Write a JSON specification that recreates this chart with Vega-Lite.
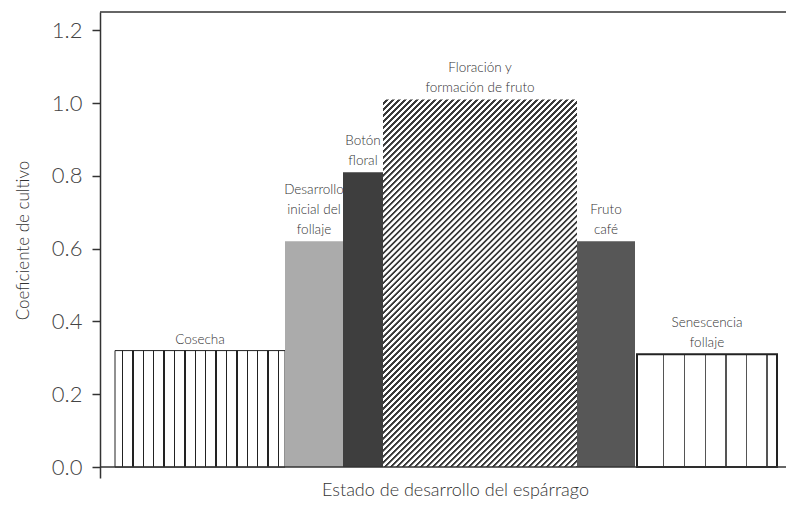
{
  "$schema": "https://vega.github.io/schema/vega-lite/v6.json",
  "width": 686,
  "height": 466,
  "autosize": {"type": "none"},
  "padding": {"left": 100, "top": 12, "right": 0, "bottom": 34},
  "background": "white",
  "config": {"view": {"stroke": null}, "font": "Lato"},
  "data": {
    "values": [
      {"stage": "Cosecha", "x0": 15, "x1": 185, "kc": 0.32, "l1": "Cosecha"},
      {"stage": "Desarrollo", "x0": 185, "x1": 243, "kc": 0.62, "l3": "Desarrollo", "l2": "inicial del", "l1": "follaje"},
      {"stage": "Boton", "x0": 243, "x1": 283, "kc": 0.81, "l2": "Botón", "l1": "floral"},
      {"stage": "Floracion", "x0": 283, "x1": 477, "kc": 1.01, "l2": "Floración y", "l1": "formación de fruto"},
      {"stage": "Fruto", "x0": 477, "x1": 535, "kc": 0.62, "l2": "Fruto", "l1": "café"},
      {"stage": "Senescencia", "x0": 537, "x1": 677, "kc": 0.31, "l2": "Senescencia", "l1": "follaje"}
    ]
  },
  "layer": [
    {
      "transform": [{"filter": "datum.stage === 'Cosecha'"}],
      "mark": {"type": "rect", "stroke": "#222", "strokeWidth": 1,
        "fill": {"gradient": "linear", "x1": 0, "y1": 0, "x2": 1, "y2": 0, "stops": [
          {"offset":0,"color":"#fff"},
          {"offset":0.039,"color":"#fff"},{"offset":0.039,"color":"#222"},{"offset":0.048,"color":"#222"},{"offset":0.048,"color":"#fff"},
          {"offset":0.100,"color":"#fff"},{"offset":0.100,"color":"#222"},{"offset":0.109,"color":"#222"},{"offset":0.109,"color":"#fff"},
          {"offset":0.162,"color":"#fff"},{"offset":0.162,"color":"#222"},{"offset":0.171,"color":"#222"},{"offset":0.171,"color":"#fff"},
          {"offset":0.223,"color":"#fff"},{"offset":0.223,"color":"#222"},{"offset":0.232,"color":"#222"},{"offset":0.232,"color":"#fff"},
          {"offset":0.284,"color":"#fff"},{"offset":0.284,"color":"#222"},{"offset":0.293,"color":"#222"},{"offset":0.293,"color":"#fff"},
          {"offset":0.345,"color":"#fff"},{"offset":0.345,"color":"#222"},{"offset":0.354,"color":"#222"},{"offset":0.354,"color":"#fff"},
          {"offset":0.407,"color":"#fff"},{"offset":0.407,"color":"#222"},{"offset":0.416,"color":"#222"},{"offset":0.416,"color":"#fff"},
          {"offset":0.468,"color":"#fff"},{"offset":0.468,"color":"#222"},{"offset":0.477,"color":"#222"},{"offset":0.477,"color":"#fff"},
          {"offset":0.529,"color":"#fff"},{"offset":0.529,"color":"#222"},{"offset":0.538,"color":"#222"},{"offset":0.538,"color":"#fff"},
          {"offset":0.590,"color":"#fff"},{"offset":0.590,"color":"#222"},{"offset":0.599,"color":"#222"},{"offset":0.599,"color":"#fff"},
          {"offset":0.652,"color":"#fff"},{"offset":0.652,"color":"#222"},{"offset":0.661,"color":"#222"},{"offset":0.661,"color":"#fff"},
          {"offset":0.713,"color":"#fff"},{"offset":0.713,"color":"#222"},{"offset":0.722,"color":"#222"},{"offset":0.722,"color":"#fff"},
          {"offset":0.774,"color":"#fff"},{"offset":0.774,"color":"#222"},{"offset":0.783,"color":"#222"},{"offset":0.783,"color":"#fff"},
          {"offset":0.835,"color":"#fff"},{"offset":0.835,"color":"#222"},{"offset":0.844,"color":"#222"},{"offset":0.844,"color":"#fff"},
          {"offset":0.897,"color":"#fff"},{"offset":0.897,"color":"#222"},{"offset":0.906,"color":"#222"},{"offset":0.906,"color":"#fff"},
          {"offset":0.958,"color":"#fff"},{"offset":0.958,"color":"#222"},{"offset":0.967,"color":"#222"},{"offset":0.967,"color":"#fff"},
          {"offset":1,"color":"#fff"}
        ]}},
      "encoding": {
        "x": {"field": "x0", "type": "quantitative", "scale": {"domain": [0, 686], "nice": false, "zero": false},
          "axis": {"domain": false, "ticks": false, "labels": false, "grid": false, "title": "Estado de desarrollo del espárrago",
            "titleFont": "Lato", "titleFontSize": 18, "titleFontWeight": 300, "titleColor": "#333", "titleX": 355, "titleY": 17,
            "titleBaseline": "alphabetic", "titleAlign": "center", "titleAnchor": "middle"}},
        "x2": {"field": "x1"},
        "y": {"field": "kc", "type": "quantitative", "scale": {"domain": [-0.03, 1.25], "nice": false, "zero": false},
          "axis": {"values": [0, 0.2, 0.4, 0.6, 0.8, 1.0, 1.2], "format": ".1f", "grid": false,
            "labelFont": "Lato", "labelFontWeight": 300, "labelFontSize": 22, "labelColor": "#444", "labelPadding": 10, "tickSize": 8, "tickColor": "#333", "tickWidth": 1.5,
            "domainColor": "#333", "domainWidth": 1.5,
            "title": "Coeficiente de cultivo", "titleFont": "Lato", "titleFontSize": 17, "titleFontWeight": 300, "titleColor": "#333",
            "titleX": -72, "titleY": 228, "titleAngle": -90, "titleAlign": "center", "titleBaseline": "alphabetic"}},
        "y2": {"datum": 0}
      }
    },
    {
      "transform": [{"filter": "datum.stage === 'Desarrollo'"}],
      "mark": {"type": "rect", "fill": "#ababab"},
      "encoding": {
        "x": {"field": "x0", "type": "quantitative", "scale": {"domain": [0, 686], "nice": false, "zero": false}},
        "x2": {"field": "x1"},
        "y": {"field": "kc", "type": "quantitative", "scale": {"domain": [-0.03, 1.25], "nice": false, "zero": false}},
        "y2": {"datum": 0}
      }
    },
    {
      "transform": [{"filter": "datum.stage === 'Boton'"}],
      "mark": {"type": "rect", "fill": "#3e3e3e"},
      "encoding": {
        "x": {"field": "x0", "type": "quantitative", "scale": {"domain": [0, 686], "nice": false, "zero": false}},
        "x2": {"field": "x1"},
        "y": {"field": "kc", "type": "quantitative", "scale": {"domain": [-0.03, 1.25], "nice": false, "zero": false}},
        "y2": {"datum": 0}
      }
    },
    {
      "transform": [{"filter": "datum.stage === 'Fruto'"}],
      "mark": {"type": "rect", "fill": "#575757"},
      "encoding": {
        "x": {"field": "x0", "type": "quantitative", "scale": {"domain": [0, 686], "nice": false, "zero": false}},
        "x2": {"field": "x1"},
        "y": {"field": "kc", "type": "quantitative", "scale": {"domain": [-0.03, 1.25], "nice": false, "zero": false}},
        "y2": {"datum": 0}
      }
    },
    {
      "transform": [{"filter": "datum.stage === 'Floracion'"}],
      "mark": {"type": "rect",
        "fill": {"gradient": "linear", "x1": 0, "y1": 0, "x2": 0.6697, "y2": 1.2738, "stops": [
          {"offset":0,"color":"#fff"},
          {"offset":0.005,"color":"#fff"},{"offset":0.006,"color":"#3a3a3a"},{"offset":0.0095,"color":"#3a3a3a"},{"offset":0.0105,"color":"#fff"},
          {"offset":0.015,"color":"#fff"},{"offset":0.016,"color":"#3a3a3a"},{"offset":0.0195,"color":"#3a3a3a"},{"offset":0.0205,"color":"#fff"},
          {"offset":0.025,"color":"#fff"},{"offset":0.026,"color":"#3a3a3a"},{"offset":0.0295,"color":"#3a3a3a"},{"offset":0.0305,"color":"#fff"},
          {"offset":0.035,"color":"#fff"},{"offset":0.036,"color":"#3a3a3a"},{"offset":0.0395,"color":"#3a3a3a"},{"offset":0.0405,"color":"#fff"},
          {"offset":0.045,"color":"#fff"},{"offset":0.046,"color":"#3a3a3a"},{"offset":0.0495,"color":"#3a3a3a"},{"offset":0.0505,"color":"#fff"},
          {"offset":0.055,"color":"#fff"},{"offset":0.056,"color":"#3a3a3a"},{"offset":0.0595,"color":"#3a3a3a"},{"offset":0.0605,"color":"#fff"},
          {"offset":0.065,"color":"#fff"},{"offset":0.066,"color":"#3a3a3a"},{"offset":0.0695,"color":"#3a3a3a"},{"offset":0.0705,"color":"#fff"},
          {"offset":0.075,"color":"#fff"},{"offset":0.076,"color":"#3a3a3a"},{"offset":0.0795,"color":"#3a3a3a"},{"offset":0.0805,"color":"#fff"},
          {"offset":0.085,"color":"#fff"},{"offset":0.086,"color":"#3a3a3a"},{"offset":0.0895,"color":"#3a3a3a"},{"offset":0.0905,"color":"#fff"},
          {"offset":0.095,"color":"#fff"},{"offset":0.096,"color":"#3a3a3a"},{"offset":0.0995,"color":"#3a3a3a"},{"offset":0.1005,"color":"#fff"},
          {"offset":0.105,"color":"#fff"},{"offset":0.106,"color":"#3a3a3a"},{"offset":0.1095,"color":"#3a3a3a"},{"offset":0.1105,"color":"#fff"},
          {"offset":0.115,"color":"#fff"},{"offset":0.116,"color":"#3a3a3a"},{"offset":0.1195,"color":"#3a3a3a"},{"offset":0.1205,"color":"#fff"},
          {"offset":0.125,"color":"#fff"},{"offset":0.126,"color":"#3a3a3a"},{"offset":0.1295,"color":"#3a3a3a"},{"offset":0.1305,"color":"#fff"},
          {"offset":0.135,"color":"#fff"},{"offset":0.136,"color":"#3a3a3a"},{"offset":0.1395,"color":"#3a3a3a"},{"offset":0.1405,"color":"#fff"},
          {"offset":0.145,"color":"#fff"},{"offset":0.146,"color":"#3a3a3a"},{"offset":0.1495,"color":"#3a3a3a"},{"offset":0.1505,"color":"#fff"},
          {"offset":0.155,"color":"#fff"},{"offset":0.156,"color":"#3a3a3a"},{"offset":0.1595,"color":"#3a3a3a"},{"offset":0.1605,"color":"#fff"},
          {"offset":0.165,"color":"#fff"},{"offset":0.166,"color":"#3a3a3a"},{"offset":0.1695,"color":"#3a3a3a"},{"offset":0.1705,"color":"#fff"},
          {"offset":0.175,"color":"#fff"},{"offset":0.176,"color":"#3a3a3a"},{"offset":0.1795,"color":"#3a3a3a"},{"offset":0.1805,"color":"#fff"},
          {"offset":0.185,"color":"#fff"},{"offset":0.186,"color":"#3a3a3a"},{"offset":0.1895,"color":"#3a3a3a"},{"offset":0.1905,"color":"#fff"},
          {"offset":0.195,"color":"#fff"},{"offset":0.196,"color":"#3a3a3a"},{"offset":0.1995,"color":"#3a3a3a"},{"offset":0.2005,"color":"#fff"},
          {"offset":0.205,"color":"#fff"},{"offset":0.206,"color":"#3a3a3a"},{"offset":0.2095,"color":"#3a3a3a"},{"offset":0.2105,"color":"#fff"},
          {"offset":0.215,"color":"#fff"},{"offset":0.216,"color":"#3a3a3a"},{"offset":0.2195,"color":"#3a3a3a"},{"offset":0.2205,"color":"#fff"},
          {"offset":0.225,"color":"#fff"},{"offset":0.226,"color":"#3a3a3a"},{"offset":0.2295,"color":"#3a3a3a"},{"offset":0.2305,"color":"#fff"},
          {"offset":0.235,"color":"#fff"},{"offset":0.236,"color":"#3a3a3a"},{"offset":0.2395,"color":"#3a3a3a"},{"offset":0.2405,"color":"#fff"},
          {"offset":0.245,"color":"#fff"},{"offset":0.246,"color":"#3a3a3a"},{"offset":0.2495,"color":"#3a3a3a"},{"offset":0.2505,"color":"#fff"},
          {"offset":0.255,"color":"#fff"},{"offset":0.256,"color":"#3a3a3a"},{"offset":0.2595,"color":"#3a3a3a"},{"offset":0.2605,"color":"#fff"},
          {"offset":0.265,"color":"#fff"},{"offset":0.266,"color":"#3a3a3a"},{"offset":0.2695,"color":"#3a3a3a"},{"offset":0.2705,"color":"#fff"},
          {"offset":0.275,"color":"#fff"},{"offset":0.276,"color":"#3a3a3a"},{"offset":0.2795,"color":"#3a3a3a"},{"offset":0.2805,"color":"#fff"},
          {"offset":0.285,"color":"#fff"},{"offset":0.286,"color":"#3a3a3a"},{"offset":0.2895,"color":"#3a3a3a"},{"offset":0.2905,"color":"#fff"},
          {"offset":0.295,"color":"#fff"},{"offset":0.296,"color":"#3a3a3a"},{"offset":0.2995,"color":"#3a3a3a"},{"offset":0.3005,"color":"#fff"},
          {"offset":0.305,"color":"#fff"},{"offset":0.306,"color":"#3a3a3a"},{"offset":0.3095,"color":"#3a3a3a"},{"offset":0.3105,"color":"#fff"},
          {"offset":0.315,"color":"#fff"},{"offset":0.316,"color":"#3a3a3a"},{"offset":0.3195,"color":"#3a3a3a"},{"offset":0.3205,"color":"#fff"},
          {"offset":0.325,"color":"#fff"},{"offset":0.326,"color":"#3a3a3a"},{"offset":0.3295,"color":"#3a3a3a"},{"offset":0.3305,"color":"#fff"},
          {"offset":0.335,"color":"#fff"},{"offset":0.336,"color":"#3a3a3a"},{"offset":0.3395,"color":"#3a3a3a"},{"offset":0.3405,"color":"#fff"},
          {"offset":0.345,"color":"#fff"},{"offset":0.346,"color":"#3a3a3a"},{"offset":0.3495,"color":"#3a3a3a"},{"offset":0.3505,"color":"#fff"},
          {"offset":0.355,"color":"#fff"},{"offset":0.356,"color":"#3a3a3a"},{"offset":0.3595,"color":"#3a3a3a"},{"offset":0.3605,"color":"#fff"},
          {"offset":0.365,"color":"#fff"},{"offset":0.366,"color":"#3a3a3a"},{"offset":0.3695,"color":"#3a3a3a"},{"offset":0.3705,"color":"#fff"},
          {"offset":0.375,"color":"#fff"},{"offset":0.376,"color":"#3a3a3a"},{"offset":0.3795,"color":"#3a3a3a"},{"offset":0.3805,"color":"#fff"},
          {"offset":0.385,"color":"#fff"},{"offset":0.386,"color":"#3a3a3a"},{"offset":0.3895,"color":"#3a3a3a"},{"offset":0.3905,"color":"#fff"},
          {"offset":0.395,"color":"#fff"},{"offset":0.396,"color":"#3a3a3a"},{"offset":0.3995,"color":"#3a3a3a"},{"offset":0.4005,"color":"#fff"},
          {"offset":0.405,"color":"#fff"},{"offset":0.406,"color":"#3a3a3a"},{"offset":0.4095,"color":"#3a3a3a"},{"offset":0.4105,"color":"#fff"},
          {"offset":0.415,"color":"#fff"},{"offset":0.416,"color":"#3a3a3a"},{"offset":0.4195,"color":"#3a3a3a"},{"offset":0.4205,"color":"#fff"},
          {"offset":0.425,"color":"#fff"},{"offset":0.426,"color":"#3a3a3a"},{"offset":0.4295,"color":"#3a3a3a"},{"offset":0.4305,"color":"#fff"},
          {"offset":0.435,"color":"#fff"},{"offset":0.436,"color":"#3a3a3a"},{"offset":0.4395,"color":"#3a3a3a"},{"offset":0.4405,"color":"#fff"},
          {"offset":0.445,"color":"#fff"},{"offset":0.446,"color":"#3a3a3a"},{"offset":0.4495,"color":"#3a3a3a"},{"offset":0.4505,"color":"#fff"},
          {"offset":0.455,"color":"#fff"},{"offset":0.456,"color":"#3a3a3a"},{"offset":0.4595,"color":"#3a3a3a"},{"offset":0.4605,"color":"#fff"},
          {"offset":0.465,"color":"#fff"},{"offset":0.466,"color":"#3a3a3a"},{"offset":0.4695,"color":"#3a3a3a"},{"offset":0.4705,"color":"#fff"},
          {"offset":0.475,"color":"#fff"},{"offset":0.476,"color":"#3a3a3a"},{"offset":0.4795,"color":"#3a3a3a"},{"offset":0.4805,"color":"#fff"},
          {"offset":0.485,"color":"#fff"},{"offset":0.486,"color":"#3a3a3a"},{"offset":0.4895,"color":"#3a3a3a"},{"offset":0.4905,"color":"#fff"},
          {"offset":0.495,"color":"#fff"},{"offset":0.496,"color":"#3a3a3a"},{"offset":0.4995,"color":"#3a3a3a"},{"offset":0.5005,"color":"#fff"},
          {"offset":0.505,"color":"#fff"},{"offset":0.506,"color":"#3a3a3a"},{"offset":0.5095,"color":"#3a3a3a"},{"offset":0.5105,"color":"#fff"},
          {"offset":0.515,"color":"#fff"},{"offset":0.516,"color":"#3a3a3a"},{"offset":0.5195,"color":"#3a3a3a"},{"offset":0.5205,"color":"#fff"},
          {"offset":0.525,"color":"#fff"},{"offset":0.526,"color":"#3a3a3a"},{"offset":0.5295,"color":"#3a3a3a"},{"offset":0.5305,"color":"#fff"},
          {"offset":0.535,"color":"#fff"},{"offset":0.536,"color":"#3a3a3a"},{"offset":0.5395,"color":"#3a3a3a"},{"offset":0.5405,"color":"#fff"},
          {"offset":0.545,"color":"#fff"},{"offset":0.546,"color":"#3a3a3a"},{"offset":0.5495,"color":"#3a3a3a"},{"offset":0.5505,"color":"#fff"},
          {"offset":0.555,"color":"#fff"},{"offset":0.556,"color":"#3a3a3a"},{"offset":0.5595,"color":"#3a3a3a"},{"offset":0.5605,"color":"#fff"},
          {"offset":0.565,"color":"#fff"},{"offset":0.566,"color":"#3a3a3a"},{"offset":0.5695,"color":"#3a3a3a"},{"offset":0.5705,"color":"#fff"},
          {"offset":0.575,"color":"#fff"},{"offset":0.576,"color":"#3a3a3a"},{"offset":0.5795,"color":"#3a3a3a"},{"offset":0.5805,"color":"#fff"},
          {"offset":0.585,"color":"#fff"},{"offset":0.586,"color":"#3a3a3a"},{"offset":0.5895,"color":"#3a3a3a"},{"offset":0.5905,"color":"#fff"},
          {"offset":0.595,"color":"#fff"},{"offset":0.596,"color":"#3a3a3a"},{"offset":0.5995,"color":"#3a3a3a"},{"offset":0.6005,"color":"#fff"},
          {"offset":0.605,"color":"#fff"},{"offset":0.606,"color":"#3a3a3a"},{"offset":0.6095,"color":"#3a3a3a"},{"offset":0.6105,"color":"#fff"},
          {"offset":0.615,"color":"#fff"},{"offset":0.616,"color":"#3a3a3a"},{"offset":0.6195,"color":"#3a3a3a"},{"offset":0.6205,"color":"#fff"},
          {"offset":0.625,"color":"#fff"},{"offset":0.626,"color":"#3a3a3a"},{"offset":0.6295,"color":"#3a3a3a"},{"offset":0.6305,"color":"#fff"},
          {"offset":0.635,"color":"#fff"},{"offset":0.636,"color":"#3a3a3a"},{"offset":0.6395,"color":"#3a3a3a"},{"offset":0.6405,"color":"#fff"},
          {"offset":0.645,"color":"#fff"},{"offset":0.646,"color":"#3a3a3a"},{"offset":0.6495,"color":"#3a3a3a"},{"offset":0.6505,"color":"#fff"},
          {"offset":0.655,"color":"#fff"},{"offset":0.656,"color":"#3a3a3a"},{"offset":0.6595,"color":"#3a3a3a"},{"offset":0.6605,"color":"#fff"},
          {"offset":0.665,"color":"#fff"},{"offset":0.666,"color":"#3a3a3a"},{"offset":0.6695,"color":"#3a3a3a"},{"offset":0.6705,"color":"#fff"},
          {"offset":0.675,"color":"#fff"},{"offset":0.676,"color":"#3a3a3a"},{"offset":0.6795,"color":"#3a3a3a"},{"offset":0.6805,"color":"#fff"},
          {"offset":0.685,"color":"#fff"},{"offset":0.686,"color":"#3a3a3a"},{"offset":0.6895,"color":"#3a3a3a"},{"offset":0.6905,"color":"#fff"},
          {"offset":0.695,"color":"#fff"},{"offset":0.696,"color":"#3a3a3a"},{"offset":0.6995,"color":"#3a3a3a"},{"offset":0.7005,"color":"#fff"},
          {"offset":0.705,"color":"#fff"},{"offset":0.706,"color":"#3a3a3a"},{"offset":0.7095,"color":"#3a3a3a"},{"offset":0.7105,"color":"#fff"},
          {"offset":0.715,"color":"#fff"},{"offset":0.716,"color":"#3a3a3a"},{"offset":0.7195,"color":"#3a3a3a"},{"offset":0.7205,"color":"#fff"},
          {"offset":0.725,"color":"#fff"},{"offset":0.726,"color":"#3a3a3a"},{"offset":0.7295,"color":"#3a3a3a"},{"offset":0.7305,"color":"#fff"},
          {"offset":0.735,"color":"#fff"},{"offset":0.736,"color":"#3a3a3a"},{"offset":0.7395,"color":"#3a3a3a"},{"offset":0.7405,"color":"#fff"},
          {"offset":0.745,"color":"#fff"},{"offset":0.746,"color":"#3a3a3a"},{"offset":0.7495,"color":"#3a3a3a"},{"offset":0.7505,"color":"#fff"},
          {"offset":0.755,"color":"#fff"},{"offset":0.756,"color":"#3a3a3a"},{"offset":0.7595,"color":"#3a3a3a"},{"offset":0.7605,"color":"#fff"},
          {"offset":0.765,"color":"#fff"},{"offset":0.766,"color":"#3a3a3a"},{"offset":0.7695,"color":"#3a3a3a"},{"offset":0.7705,"color":"#fff"},
          {"offset":0.775,"color":"#fff"},{"offset":0.776,"color":"#3a3a3a"},{"offset":0.7795,"color":"#3a3a3a"},{"offset":0.7805,"color":"#fff"},
          {"offset":0.785,"color":"#fff"},{"offset":0.786,"color":"#3a3a3a"},{"offset":0.7895,"color":"#3a3a3a"},{"offset":0.7905,"color":"#fff"},
          {"offset":0.795,"color":"#fff"},{"offset":0.796,"color":"#3a3a3a"},{"offset":0.7995,"color":"#3a3a3a"},{"offset":0.8005,"color":"#fff"},
          {"offset":0.805,"color":"#fff"},{"offset":0.806,"color":"#3a3a3a"},{"offset":0.8095,"color":"#3a3a3a"},{"offset":0.8105,"color":"#fff"},
          {"offset":0.815,"color":"#fff"},{"offset":0.816,"color":"#3a3a3a"},{"offset":0.8195,"color":"#3a3a3a"},{"offset":0.8205,"color":"#fff"},
          {"offset":0.825,"color":"#fff"},{"offset":0.826,"color":"#3a3a3a"},{"offset":0.8295,"color":"#3a3a3a"},{"offset":0.8305,"color":"#fff"},
          {"offset":0.835,"color":"#fff"},{"offset":0.836,"color":"#3a3a3a"},{"offset":0.8395,"color":"#3a3a3a"},{"offset":0.8405,"color":"#fff"},
          {"offset":0.845,"color":"#fff"},{"offset":0.846,"color":"#3a3a3a"},{"offset":0.8495,"color":"#3a3a3a"},{"offset":0.8505,"color":"#fff"},
          {"offset":0.855,"color":"#fff"},{"offset":0.856,"color":"#3a3a3a"},{"offset":0.8595,"color":"#3a3a3a"},{"offset":0.8605,"color":"#fff"},
          {"offset":0.865,"color":"#fff"},{"offset":0.866,"color":"#3a3a3a"},{"offset":0.8695,"color":"#3a3a3a"},{"offset":0.8705,"color":"#fff"},
          {"offset":0.875,"color":"#fff"},{"offset":0.876,"color":"#3a3a3a"},{"offset":0.8795,"color":"#3a3a3a"},{"offset":0.8805,"color":"#fff"},
          {"offset":0.885,"color":"#fff"},{"offset":0.886,"color":"#3a3a3a"},{"offset":0.8895,"color":"#3a3a3a"},{"offset":0.8905,"color":"#fff"},
          {"offset":0.895,"color":"#fff"},{"offset":0.896,"color":"#3a3a3a"},{"offset":0.8995,"color":"#3a3a3a"},{"offset":0.9005,"color":"#fff"},
          {"offset":0.905,"color":"#fff"},{"offset":0.906,"color":"#3a3a3a"},{"offset":0.9095,"color":"#3a3a3a"},{"offset":0.9105,"color":"#fff"},
          {"offset":0.915,"color":"#fff"},{"offset":0.916,"color":"#3a3a3a"},{"offset":0.9195,"color":"#3a3a3a"},{"offset":0.9205,"color":"#fff"},
          {"offset":0.925,"color":"#fff"},{"offset":0.926,"color":"#3a3a3a"},{"offset":0.9295,"color":"#3a3a3a"},{"offset":0.9305,"color":"#fff"},
          {"offset":0.935,"color":"#fff"},{"offset":0.936,"color":"#3a3a3a"},{"offset":0.9395,"color":"#3a3a3a"},{"offset":0.9405,"color":"#fff"},
          {"offset":0.945,"color":"#fff"},{"offset":0.946,"color":"#3a3a3a"},{"offset":0.9495,"color":"#3a3a3a"},{"offset":0.9505,"color":"#fff"},
          {"offset":1,"color":"#fff"}
        ]}},
      "encoding": {
        "x": {"field": "x0", "type": "quantitative", "scale": {"domain": [0, 686], "nice": false, "zero": false}},
        "x2": {"field": "x1"},
        "y": {"field": "kc", "type": "quantitative", "scale": {"domain": [-0.03, 1.25], "nice": false, "zero": false}},
        "y2": {"datum": 0}
      }
    },
    {
      "transform": [{"filter": "datum.stage === 'Senescencia'"}],
      "mark": {"type": "rect", "stroke": "#222", "strokeWidth": 2,
        "fill": {"gradient": "linear", "x1": 0, "y1": 0, "x2": 1, "y2": 0, "stops": [
          {"offset":0,"color":"#fff"},
          {"offset":0.188,"color":"#fff"},{"offset":0.188,"color":"#555"},{"offset":0.196,"color":"#555"},{"offset":0.196,"color":"#fff"},
          {"offset":0.336,"color":"#fff"},{"offset":0.336,"color":"#555"},{"offset":0.344,"color":"#555"},{"offset":0.344,"color":"#fff"},
          {"offset":0.484,"color":"#fff"},{"offset":0.484,"color":"#555"},{"offset":0.492,"color":"#555"},{"offset":0.492,"color":"#fff"},
          {"offset":0.632,"color":"#fff"},{"offset":0.632,"color":"#555"},{"offset":0.640,"color":"#555"},{"offset":0.640,"color":"#fff"},
          {"offset":0.780,"color":"#fff"},{"offset":0.780,"color":"#555"},{"offset":0.788,"color":"#555"},{"offset":0.788,"color":"#fff"},
          {"offset":0.925,"color":"#fff"},{"offset":0.925,"color":"#555"},{"offset":0.933,"color":"#555"},{"offset":0.933,"color":"#fff"},
          {"offset":1,"color":"#fff"}
        ]}},
      "encoding": {
        "x": {"field": "x0", "type": "quantitative", "scale": {"domain": [0, 686], "nice": false, "zero": false}},
        "x2": {"field": "x1"},
        "y": {"field": "kc", "type": "quantitative", "scale": {"domain": [-0.03, 1.25], "nice": false, "zero": false}},
        "y2": {"datum": 0}
      }
    },
    {
      "transform": [{"calculate": "(datum.x0 + datum.x1) / 2", "as": "xm"}, {"filter": "isValid(datum.l1)"}],
      "mark": {"type": "text", "baseline": "bottom", "align": "center", "dy": -4, "fontSize": 13.5, "fontWeight": 300, "color": "#333", "font": "Lato"},
      "encoding": {
        "x": {"field": "xm", "type": "quantitative", "scale": {"domain": [0, 686], "nice": false, "zero": false}},
        "y": {"field": "kc", "type": "quantitative", "scale": {"domain": [-0.03, 1.25], "nice": false, "zero": false}},
        "text": {"field": "l1"}
      }
    },
    {
      "transform": [{"calculate": "(datum.x0 + datum.x1) / 2", "as": "xm"}, {"filter": "isValid(datum.l2)"}],
      "mark": {"type": "text", "baseline": "bottom", "align": "center", "dy": -24, "fontSize": 13.5, "fontWeight": 300, "color": "#333", "font": "Lato"},
      "encoding": {
        "x": {"field": "xm", "type": "quantitative", "scale": {"domain": [0, 686], "nice": false, "zero": false}},
        "y": {"field": "kc", "type": "quantitative", "scale": {"domain": [-0.03, 1.25], "nice": false, "zero": false}},
        "text": {"field": "l2"}
      }
    },
    {
      "transform": [{"calculate": "(datum.x0 + datum.x1) / 2", "as": "xm"}, {"filter": "isValid(datum.l3)"}],
      "mark": {"type": "text", "baseline": "bottom", "align": "center", "dy": -44, "fontSize": 13.5, "fontWeight": 300, "color": "#333", "font": "Lato"},
      "encoding": {
        "x": {"field": "xm", "type": "quantitative", "scale": {"domain": [0, 686], "nice": false, "zero": false}},
        "y": {"field": "kc", "type": "quantitative", "scale": {"domain": [-0.03, 1.25], "nice": false, "zero": false}},
        "text": {"field": "l3"}
      }
    },
    {
      "data": {"values": [{"ref": 1.25}, {"ref": 0}]},
      "mark": {"type": "rule", "color": "#333", "strokeWidth": 1.5},
      "encoding": {
        "y": {"field": "ref", "type": "quantitative", "scale": {"domain": [-0.03, 1.25], "nice": false, "zero": false}}
      }
    }
  ]
}
